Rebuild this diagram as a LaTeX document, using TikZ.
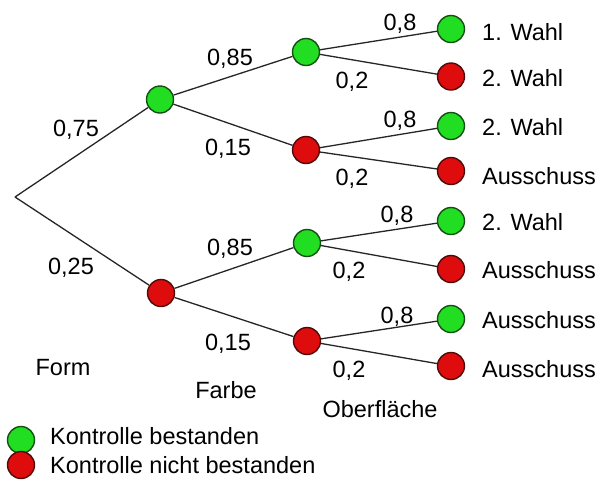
\documentclass[tikz,border=0pt]{standalone}
\usepackage{fontspec}
\setmainfont{Liberation Sans}
\definecolor{gfill}{RGB}{34,222,34}
\definecolor{gdraw}{RGB}{20,80,20}
\definecolor{rfill}{RGB}{222,12,12}
\definecolor{rdraw}{RGB}{80,10,10}
\begin{document}
\begin{tikzpicture}[x=1pt,y=-1pt,
  font=\fontsize{23.5}{26}\selectfont,
  okdot/.style={circle,fill=gfill,draw=gdraw,line width=1.4pt,minimum size=27pt,inner sep=0pt},
  nodot/.style={circle,fill=rfill,draw=rdraw,line width=1.4pt,minimum size=27pt,inner sep=0pt},
  edge/.style={draw=black!85,line width=1.3pt},
  lbl/.style={anchor=base,inner sep=0pt},
  leaf/.style={anchor=base west,inner sep=0pt}]
\useasboundingbox (0,0) rectangle (604,483);
\fill[white] (0,0) rectangle (604,483);
% nodes
\coordinate (r) at (15,197);
\node[okdot] (a) at (160,99.5) {};
\node[nodot] (b) at (161,293) {};
\node[okdot] (aa) at (306,52) {};
\node[nodot] (ab) at (306,150) {};
\node[okdot] (ba) at (307,243) {};
\node[nodot] (bb) at (307,341) {};
\node[okdot] (l1) at (451,29) {};
\node[nodot] (l2) at (451,76.5) {};
\node[okdot] (l3) at (451,126) {};
\node[nodot] (l4) at (451,171) {};
\node[okdot] (l5) at (451,221) {};
\node[nodot] (l6) at (451,269) {};
\node[okdot] (l7) at (451,319) {};
\node[nodot] (l8) at (451,366) {};
% edges
\path[edge] (r) -- (a);
\path[edge] (r) -- (b);
\path[edge] (a) -- (aa);
\path[edge] (a) -- (ab);
\path[edge] (b) -- (ba);
\path[edge] (b) -- (bb);
\path[edge] (aa) -- (l1);
\path[edge] (aa) -- (l2);
\path[edge] (ab) -- (l3);
\path[edge] (ab) -- (l4);
\path[edge] (ba) -- (l5);
\path[edge] (ba) -- (l6);
\path[edge] (bb) -- (l7);
\path[edge] (bb) -- (l8);
% probabilities
\node[lbl] (p1) at (76,136.4) {0,75};
\node[lbl] (p2) at (71,274.4) {0,25};
\node[lbl] (p3) at (230,65.4) {0,85};
\node[lbl] (p4) at (228,155.4) {0,15};
\node[lbl] (p5) at (230,255) {0,85};
\node[lbl] (p6) at (228,350) {0,15};
\node[lbl] (q1) at (400,30) {0,8};
\node[lbl] (q2) at (352,88) {0,2};
\node[lbl] (q3) at (400,127) {0,8};
\node[lbl] (q4) at (352,185) {0,2};
\node[lbl] (q5) at (397,222) {0,8};
\node[lbl] (q6) at (349,278) {0,2};
\node[lbl] (q7) at (397,323) {0,8};
\node[lbl] (q8) at (349,377) {0,2};
% leaf labels
\node[leaf] (t1) at (482,40) {1. Wahl};
\node[leaf] (t2) at (482,86) {2. Wahl};
\node[leaf] (t3) at (482,135) {2. Wahl};
\node[leaf] (t4) at (482,184) {Ausschuss};
\node[leaf] (t5) at (482,230) {2. Wahl};
\node[leaf] (t6) at (482,278) {Ausschuss};
\node[leaf] (t7) at (482,328) {Ausschuss};
\node[leaf] (t8) at (482,377) {Ausschuss};
% stage labels
\node[lbl] (s1) at (63,375) {Form};
\node[lbl] (s2) at (226,398) {Farbe};
\node[lbl] (s3) at (380,417) {Oberfläche};
% legend
\node[okdot] (k1) at (21,440) {};
\node[nodot] (k2) at (21,465) {};
\node[leaf] (kt1) at (50,444) {Kontrolle bestanden};
\node[leaf] (kt2) at (50,473) {Kontrolle nicht bestanden};
\end{tikzpicture}
\end{document}
